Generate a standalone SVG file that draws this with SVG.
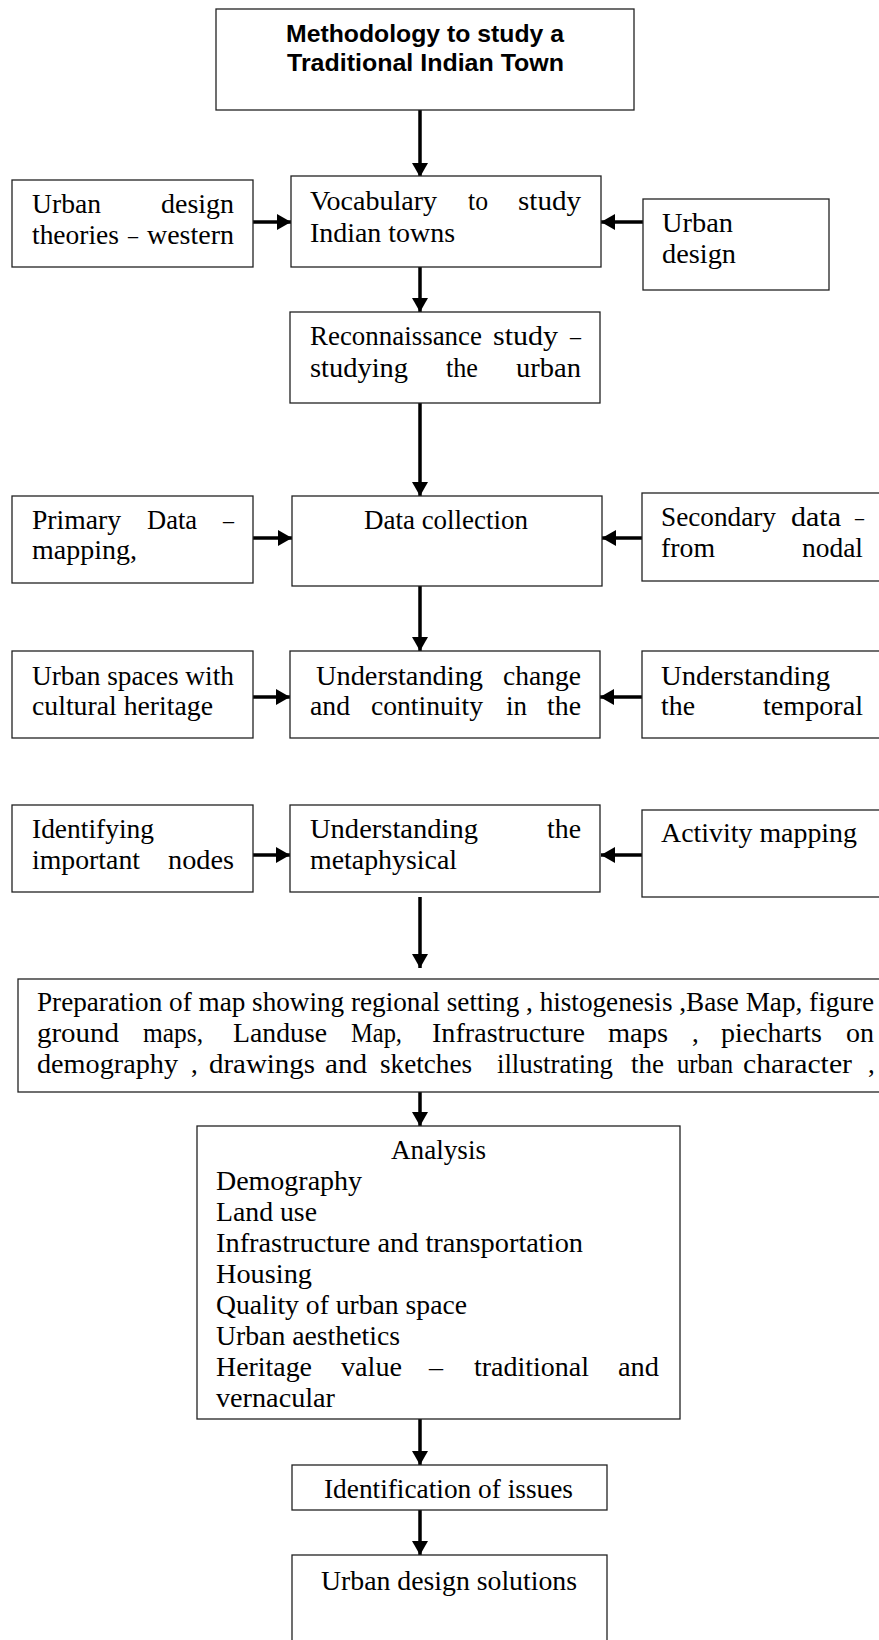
<svg xmlns="http://www.w3.org/2000/svg" width="879" height="1640" viewBox="0 0 879 1640">
<style>
.box{fill:#fff;stroke:#222;stroke-width:1.3}
.t{font-family:"Liberation Serif","Times New Roman",serif;font-size:27px;fill:#000}
.title{font-family:"Liberation Sans",Arial,sans-serif;font-weight:bold;font-size:24px;fill:#000}
.c{stroke:#000;stroke-width:3.5;fill:none;marker-end:url(#ah)}
</style>
<defs>
<marker id="ah" markerUnits="userSpaceOnUse" markerWidth="14" markerHeight="16" refX="14" refY="8" orient="auto">
<path d="M0,0 L14,8 L0,16 Z" fill="#000"/>
</marker>
</defs>
<rect width="879" height="1640" fill="#fff"/>

<g id="connectors">
<line class="c" x1="420" y1="110" x2="420" y2="177"/>
<line class="c" x1="420" y1="267" x2="420" y2="312"/>
<line class="c" x1="420" y1="403" x2="420" y2="496"/>
<line class="c" x1="420" y1="586" x2="420" y2="651"/>
<line class="c" x1="420" y1="897" x2="420" y2="968"/>
<line class="c" x1="420" y1="1082" x2="420" y2="1126"/>
<line class="c" x1="420" y1="1419" x2="420" y2="1465"/>
<line class="c" x1="420" y1="1510" x2="420" y2="1555"/>
<line class="c" x1="253" y1="222" x2="291" y2="222"/>
<line class="c" x1="643" y1="222" x2="601" y2="222"/>
<line class="c" x1="253" y1="538" x2="292" y2="538"/>
<line class="c" x1="642" y1="538" x2="602" y2="538"/>
<line class="c" x1="253" y1="697" x2="290" y2="697"/>
<line class="c" x1="642" y1="697" x2="600" y2="697"/>
<line class="c" x1="253" y1="855" x2="290" y2="855"/>
<line class="c" x1="642" y1="855" x2="601" y2="855"/>
</g>

<g id="title">
<rect class="box" x="216" y="9" width="418" height="101"/>
<text class="title" x="286" y="42" textLength="278" lengthAdjust="spacingAndGlyphs">Methodology to study a</text>
<text class="title" x="287" y="71" textLength="277" lengthAdjust="spacingAndGlyphs">Traditional Indian Town</text>
</g>

<g id="western-theories">
<rect class="box" x="12" y="180" width="241" height="87"/>
<text class="t" x="32" y="213" textLength="69" lengthAdjust="spacingAndGlyphs">Urban</text>
<text class="t" x="161" y="213" textLength="73" lengthAdjust="spacingAndGlyphs">design</text>
<text class="t" x="32" y="244" textLength="87" lengthAdjust="spacingAndGlyphs">theories</text>
<text class="t" x="128" y="244" textLength="10" lengthAdjust="spacingAndGlyphs">–</text>
<text class="t" x="147" y="244" textLength="87" lengthAdjust="spacingAndGlyphs">western</text>
</g>

<g id="vocabulary">
<rect class="box" x="291" y="176" width="310" height="91"/>
<text class="t" x="310" y="210" textLength="127" lengthAdjust="spacingAndGlyphs">Vocabulary</text>
<text class="t" x="468" y="210" textLength="20" lengthAdjust="spacingAndGlyphs">to</text>
<text class="t" x="518" y="210" textLength="63" lengthAdjust="spacingAndGlyphs">study</text>
<text class="t" x="310" y="242" textLength="145" lengthAdjust="spacingAndGlyphs">Indian towns</text>
</g>

<g id="urban-design-right">
<rect class="box" x="643" y="199" width="186" height="91"/>
<text class="t" x="662" y="232" textLength="71" lengthAdjust="spacingAndGlyphs">Urban</text>
<text class="t" x="662" y="263" textLength="74" lengthAdjust="spacingAndGlyphs">design</text>
</g>

<g id="reconnaissance">
<rect class="box" x="290" y="312" width="310" height="91"/>
<text class="t" x="310" y="345" textLength="172" lengthAdjust="spacingAndGlyphs">Reconnaissance</text>
<text class="t" x="493" y="345" textLength="65" lengthAdjust="spacingAndGlyphs">study</text>
<text class="t" x="570" y="345" textLength="11" lengthAdjust="spacingAndGlyphs">–</text>
<text class="t" x="310" y="377" textLength="98" lengthAdjust="spacingAndGlyphs">studying</text>
<text class="t" x="446" y="377" textLength="32" lengthAdjust="spacingAndGlyphs">the</text>
<text class="t" x="516" y="377" textLength="65" lengthAdjust="spacingAndGlyphs">urban</text>
</g>

<g id="primary-data">
<rect class="box" x="12" y="496" width="241" height="87"/>
<text class="t" x="32" y="529" textLength="89" lengthAdjust="spacingAndGlyphs">Primary</text>
<text class="t" x="147" y="529" textLength="50" lengthAdjust="spacingAndGlyphs">Data</text>
<text class="t" x="223" y="529" textLength="11" lengthAdjust="spacingAndGlyphs">–</text>
<text class="t" x="32" y="559" textLength="105" lengthAdjust="spacingAndGlyphs">mapping,</text>
</g>

<g id="data-collection">
<rect class="box" x="292" y="496" width="310" height="90"/>
<text class="t" x="364" y="529" textLength="164" lengthAdjust="spacingAndGlyphs">Data collection</text>
</g>

<g id="secondary-data">
<rect class="box" x="642" y="493" width="250" height="88"/>
<text class="t" x="661" y="526" textLength="115" lengthAdjust="spacingAndGlyphs">Secondary</text>
<text class="t" x="791" y="526" textLength="50" lengthAdjust="spacingAndGlyphs">data</text>
<text class="t" x="855" y="526" textLength="9" lengthAdjust="spacingAndGlyphs">–</text>
<text class="t" x="661" y="557" textLength="54" lengthAdjust="spacingAndGlyphs">from</text>
<text class="t" x="802" y="557" textLength="61" lengthAdjust="spacingAndGlyphs">nodal</text>
</g>

<g id="urban-spaces">
<rect class="box" x="12" y="651" width="241" height="87"/>
<text class="t" x="32" y="685" textLength="202" lengthAdjust="spacingAndGlyphs">Urban spaces with</text>
<text class="t" x="32" y="715" textLength="181" lengthAdjust="spacingAndGlyphs">cultural heritage</text>
</g>

<g id="change-continuity">
<rect class="box" x="290" y="651" width="310" height="87"/>
<text class="t" x="316" y="685" textLength="167" lengthAdjust="spacingAndGlyphs">Understanding</text>
<text class="t" x="503" y="685" textLength="78" lengthAdjust="spacingAndGlyphs">change</text>
<text class="t" x="310" y="715" textLength="40" lengthAdjust="spacingAndGlyphs">and</text>
<text class="t" x="371" y="715" textLength="112" lengthAdjust="spacingAndGlyphs">continuity</text>
<text class="t" x="506" y="715" textLength="21" lengthAdjust="spacingAndGlyphs">in</text>
<text class="t" x="547" y="715" textLength="34" lengthAdjust="spacingAndGlyphs">the</text>
</g>

<g id="temporal">
<rect class="box" x="642" y="651" width="250" height="87"/>
<text class="t" x="661" y="685" textLength="169" lengthAdjust="spacingAndGlyphs">Understanding</text>
<text class="t" x="661" y="715" textLength="34" lengthAdjust="spacingAndGlyphs">the</text>
<text class="t" x="763" y="715" textLength="100" lengthAdjust="spacingAndGlyphs">temporal</text>
</g>

<g id="important-nodes">
<rect class="box" x="12" y="805" width="241" height="87"/>
<text class="t" x="32" y="838" textLength="122" lengthAdjust="spacingAndGlyphs">Identifying</text>
<text class="t" x="32" y="869" textLength="108" lengthAdjust="spacingAndGlyphs">important</text>
<text class="t" x="168" y="869" textLength="66" lengthAdjust="spacingAndGlyphs">nodes</text>
</g>

<g id="metaphysical">
<rect class="box" x="290" y="805" width="310" height="87"/>
<text class="t" x="310" y="838" textLength="168" lengthAdjust="spacingAndGlyphs">Understanding</text>
<text class="t" x="547" y="838" textLength="34" lengthAdjust="spacingAndGlyphs">the</text>
<text class="t" x="310" y="869" textLength="147" lengthAdjust="spacingAndGlyphs">metaphysical</text>
</g>

<g id="activity-mapping">
<rect class="box" x="642" y="810" width="250" height="87"/>
<text class="t" x="661" y="842" textLength="196" lengthAdjust="spacingAndGlyphs">Activity mapping</text>
</g>

<g id="preparation">
<rect class="box" x="18" y="979" width="880" height="113"/>
<text class="t" x="37" y="1011" textLength="837" lengthAdjust="spacingAndGlyphs">Preparation of map showing regional setting , histogenesis ,Base Map, figure</text>
<text class="t" x="37" y="1042" textLength="82" lengthAdjust="spacingAndGlyphs">ground</text>
<text class="t" x="143" y="1042" textLength="60" lengthAdjust="spacingAndGlyphs">maps,</text>
<text class="t" x="233" y="1042" textLength="94" lengthAdjust="spacingAndGlyphs">Landuse</text>
<text class="t" x="351" y="1042" textLength="51" lengthAdjust="spacingAndGlyphs">Map,</text>
<text class="t" x="432" y="1042" textLength="153" lengthAdjust="spacingAndGlyphs">Infrastructure</text>
<text class="t" x="608" y="1042" textLength="60" lengthAdjust="spacingAndGlyphs">maps</text>
<text class="t" x="692" y="1042">,</text>
<text class="t" x="721" y="1042" textLength="101" lengthAdjust="spacingAndGlyphs">piecharts</text>
<text class="t" x="846" y="1042" textLength="28" lengthAdjust="spacingAndGlyphs">on</text>
<text class="t" x="37" y="1073" textLength="141" lengthAdjust="spacingAndGlyphs">demography</text>
<text class="t" x="191" y="1073">,</text>
<text class="t" x="209" y="1073" textLength="106" lengthAdjust="spacingAndGlyphs">drawings</text>
<text class="t" x="325" y="1073" textLength="42" lengthAdjust="spacingAndGlyphs">and</text>
<text class="t" x="380" y="1073" textLength="92" lengthAdjust="spacingAndGlyphs">sketches</text>
<text class="t" x="497" y="1073" textLength="116" lengthAdjust="spacingAndGlyphs">illustrating</text>
<text class="t" x="631" y="1073" textLength="33" lengthAdjust="spacingAndGlyphs">the</text>
<text class="t" x="677" y="1073" textLength="56" lengthAdjust="spacingAndGlyphs">urban</text>
<text class="t" x="743" y="1073" textLength="109" lengthAdjust="spacingAndGlyphs">character</text>
<text class="t" x="868" y="1073">,</text>
</g>

<g id="analysis">
<rect class="box" x="197" y="1126" width="483" height="293"/>
<text class="t" x="391" y="1159" textLength="95" lengthAdjust="spacingAndGlyphs">Analysis</text>
<text class="t" x="216" y="1190" textLength="146" lengthAdjust="spacingAndGlyphs">Demography</text>
<text class="t" x="216" y="1221" textLength="101" lengthAdjust="spacingAndGlyphs">Land use</text>
<text class="t" x="216" y="1252" textLength="367" lengthAdjust="spacingAndGlyphs">Infrastructure and transportation</text>
<text class="t" x="216" y="1283" textLength="96" lengthAdjust="spacingAndGlyphs">Housing</text>
<text class="t" x="216" y="1314" textLength="251" lengthAdjust="spacingAndGlyphs">Quality of urban space</text>
<text class="t" x="216" y="1345" textLength="184" lengthAdjust="spacingAndGlyphs">Urban aesthetics</text>
<text class="t" x="216" y="1376" textLength="96" lengthAdjust="spacingAndGlyphs">Heritage</text>
<text class="t" x="341" y="1376" textLength="61" lengthAdjust="spacingAndGlyphs">value</text>
<text class="t" x="429" y="1376" textLength="14" lengthAdjust="spacingAndGlyphs">–</text>
<text class="t" x="474" y="1376" textLength="115" lengthAdjust="spacingAndGlyphs">traditional</text>
<text class="t" x="618" y="1376" textLength="41" lengthAdjust="spacingAndGlyphs">and</text>
<text class="t" x="216" y="1407" textLength="119" lengthAdjust="spacingAndGlyphs">vernacular</text>
</g>

<g id="issues">
<rect class="box" x="292" y="1465" width="315" height="45"/>
<text class="t" x="324" y="1498" textLength="249" lengthAdjust="spacingAndGlyphs">Identification of issues</text>
</g>

<g id="solutions">
<rect class="box" x="292" y="1555" width="315" height="100"/>
<text class="t" x="321" y="1590" textLength="256" lengthAdjust="spacingAndGlyphs">Urban design solutions</text>
</g>
</svg>
